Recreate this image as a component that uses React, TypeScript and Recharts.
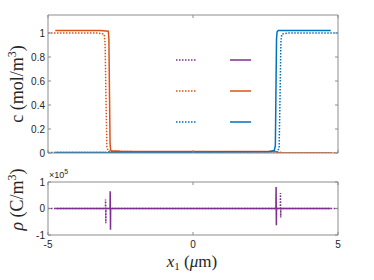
import React from 'react';
import { LineChart, Line, XAxis, YAxis, Legend } from 'recharts';

// ---------- data ----------
const xTicks = [-5, 0, 5];
const cTicks = [0, 0.2, 0.4, 0.6, 0.8, 1];
const rhoTicks = [-1, 0, 1];

// concentration, species 1 (orange)
const orangeSolidX = [-4.75, -3.2, -2.92, -2.9, -2.88, -2.86, -2.84, -2.8, -2.5, 0, 2.5, 2.85, 2.92, 3.0, 4.75];
const orangeSolidY = [1.02, 1.02, 1.015, 0.95, 0.5, 0.08, 0.025, 0.018, 0.015, 0.013, 0.013, 0.012, 0.004, 0.0, 0.0];
const orangeDottedX = [-5, -3.3, -3.06, -3.03, -3.0, -2.97, -2.93, -2.85, 0, 2.9, 3.05, 5];
const orangeDottedY = [1.0, 1.0, 0.99, 0.9, 0.45, 0.05, 0.02, 0.012, 0.01, 0.01, 0.003, 0.003];

// concentration, species 2 (blue)
const blueSolidX = [-4.75, -3.0, -2.9, -2.85, -2.7, 0, 2.6, 2.8, 2.84, 2.86, 2.88, 2.9, 2.94, 3.2, 4.75];
const blueSolidY = [0.005, 0.005, 0.0, 0.004, 0.006, 0.006, 0.01, 0.02, 0.06, 0.5, 0.95, 1.01, 1.02, 1.02, 1.02];
const blueDottedX = [-5, -3.0, -2.95, 0, 2.9, 2.97, 3.0, 3.03, 3.06, 3.3, 5];
const blueDottedY = [0.004, 0.004, 0.008, 0.008, 0.01, 0.04, 0.45, 0.92, 0.99, 1.0, 1.0];

// charge density (purple), units of 1e5 C/m^3
const rhoSolidX = [-4.75, -2.86, -2.855, -2.845, -2.84, 2.86, 2.865, 2.875, 2.88, 4.75];
const rhoSolidY = [0, 0, 0.65, -0.8, 0, 0, 0.81, -0.63, 0, 0];
const rhoDottedX = [-5, -3.02, -3.015, -3.005, -3.0, 3.01, 3.015, 3.025, 3.03, 5];
const rhoDottedY = [0, 0, 0.34, -0.56, 0, 0, 0.58, -0.34, 0, 0];

const ORANGE = '#D95319';
const BLUE = '#0072BD';
const PURPLE = '#7E2F8E';
const legendColors = [PURPLE, ORANGE, BLUE];

const zip = (xs: number[], ys: number[]) => xs.map((x, i) => ({ x, y: ys[i] }));

// ---------- styles ----------
const FRAME = '#8c8c8c';
const TXT = '#262626';
const TL = 3;
const SANS = '"Liberation Sans", Arial, sans-serif';
const SERIF = '"Liberation Serif", "DejaVu Serif", serif';
const DOT = '1.5 1.5';
const W = 374;

const fmt = (v: number) => (v < 0 ? '-' + Math.abs(v) : String(v));

const bottomTick = (showLabel: boolean) => (p: any) => (
  <g>
    <line x1={p.x} x2={p.x} y1={p.y} y2={p.y - TL} stroke={FRAME} />
    {showLabel && (
      <text x={p.x} y={p.y + 13} textAnchor="middle" fontFamily={SANS} fontSize={10} fill={TXT}>
        {fmt(p.payload.value)}
      </text>
    )}
  </g>
);
const topTick = (p: any) => (
  <g>
    <line x1={p.x} x2={p.x} y1={p.y} y2={p.y + TL} stroke={FRAME} />
  </g>
);
const leftTick = (p: any) => (
  <g>
    <line x1={p.x} x2={p.x + TL} y1={p.y} y2={p.y} stroke={FRAME} />
    <text x={p.x - 3} y={p.y + 3.5} textAnchor="end" fontFamily={SANS} fontSize={10} fill={TXT}>
      {fmt(p.payload.value)}
    </text>
  </g>
);
const rightTick = (p: any) => (
  <g>
    <line x1={p.x} x2={p.x - TL} y1={p.y} y2={p.y} stroke={FRAME} />
  </g>
);

const cLabel = (p: any) => {
  const vb = p.viewBox;
  const cx = 23;
  const cy = vb.y + vb.height / 2;
  return (
    <text x={cx} y={cy} transform={`rotate(-90 ${cx} ${cy})`} textAnchor="middle" fontFamily={SERIF} fontSize={18} fill={TXT}>
      c (mol/m<tspan dy={-7} fontSize={12}>3</tspan><tspan dy={7}>)</tspan>
    </text>
  );
};
const rhoLabel = (p: any) => {
  const vb = p.viewBox;
  const cx = 23;
  const cy = vb.y + vb.height / 2 - 9;
  return (
    <text x={cx} y={cy} transform={`rotate(-90 ${cx} ${cy})`} textAnchor="middle" fontFamily={SERIF} fontSize={18} fill={TXT}>
      <tspan fontStyle="italic">ρ</tspan> (C/m<tspan dy={-7} fontSize={12}>3</tspan><tspan dy={7}>)</tspan>
    </text>
  );
};
const xLabel = (p: any) => {
  const vb = p.viewBox;
  const cx = vb.x + vb.width / 2 - 1;
  return (
    <text x={cx} y={vb.y + 32} textAnchor="middle" fontFamily={SERIF} fontSize={17} fill={TXT}>
      <tspan fontStyle="italic">x</tspan><tspan dy={3} fontSize={11}>1</tspan><tspan dy={-3}> (</tspan><tspan fontStyle="italic">μ</tspan>m)
    </text>
  );
};
const expLabel = (p: any) => {
  const vb = p.viewBox;
  return (
    <text x={vb.x + 1} y={vb.y - 3} fontFamily={SANS} fontSize={9} fill={TXT}>
      ×10<tspan dy={-4} fontSize={7}>5</tspan>
    </text>
  );
};

const LegendBox = () => (
  <svg width={90} height={80}>
    {legendColors.map((c, i) => (
      <g key={i}>
        <line x1={6} x2={27} y1={10 + i * 31} y2={10 + i * 31} stroke={c} strokeWidth={1.5} strokeDasharray={DOT} />
        <line x1={60} x2={81} y1={10 + i * 31} y2={10 + i * 31} stroke={c} strokeWidth={1.5} />
      </g>
    ))}
  </svg>
);

const axisCommon = {
  type: 'number' as const,
  allowDataOverflow: true,
  tickSize: 0,
  tickMargin: 0,
  tickLine: false,
  interval: 0 as const,
  axisLine: { stroke: FRAME },
};

export default function App() {
  return (
    <div style={{ position: 'absolute', left: 0, top: 0, width: W, height: 280, background: '#fff' }}>
      <div style={{ position: 'absolute', left: 0, top: 0 }}>
        <LineChart width={W} height={160} margin={{ top: 14, right: 35, bottom: 6, left: 47 }}>
          <XAxis {...axisCommon} dataKey="x" domain={[-5, 5]} ticks={xTicks} height={1} tick={bottomTick(false)} />
          <XAxis {...axisCommon} xAxisId="t" orientation="top" dataKey="x" domain={[-5, 5]} ticks={xTicks} height={1} tick={topTick} />
          <YAxis {...axisCommon} domain={[0, 1.15]} ticks={cTicks} width={1} tick={leftTick} label={cLabel} />
          <YAxis {...axisCommon} yAxisId="r" orientation="right" domain={[0, 1.15]} ticks={cTicks} width={1} tick={rightTick} />
          <Line data={zip(orangeDottedX, orangeDottedY)} dataKey="y" stroke={ORANGE} strokeWidth={1.5} strokeDasharray={DOT} dot={false} isAnimationActive={false} />
          <Line data={zip(blueDottedX, blueDottedY)} dataKey="y" stroke={BLUE} strokeWidth={1.5} strokeDasharray={DOT} dot={false} isAnimationActive={false} />
          <Line data={zip(orangeSolidX, orangeSolidY)} dataKey="y" stroke={ORANGE} strokeWidth={1.5} dot={false} isAnimationActive={false} />
          <Line data={zip(blueSolidX, blueSolidY)} dataKey="y" stroke={BLUE} strokeWidth={1.5} dot={false} isAnimationActive={false} />
          <Legend layout="horizontal" verticalAlign="middle" align="center"
            wrapperStyle={{ position: 'absolute', left: 170, top: 50, width: 90, height: 80 }}
            content={() => <LegendBox />} />
        </LineChart>
      </div>
      <div style={{ position: 'absolute', left: 0, top: 160 }}>
        <LineChart width={W} height={120} margin={{ top: 21, right: 35, bottom: 44, left: 47 }}>
          <XAxis {...axisCommon} dataKey="x" domain={[-5, 5]} ticks={xTicks} height={1} tick={bottomTick(true)} label={xLabel} />
          <XAxis {...axisCommon} xAxisId="t" orientation="top" dataKey="x" domain={[-5, 5]} ticks={xTicks} height={1} tick={topTick} label={expLabel} />
          <YAxis {...axisCommon} domain={[-1, 1]} ticks={rhoTicks} width={1} tick={leftTick} label={rhoLabel} />
          <YAxis {...axisCommon} yAxisId="r" orientation="right" domain={[-1, 1]} ticks={rhoTicks} width={1} tick={rightTick} />
          <Line data={zip(rhoDottedX, rhoDottedY)} dataKey="y" stroke={PURPLE} strokeWidth={1.5} strokeDasharray={DOT} dot={false} isAnimationActive={false} />
          <Line data={zip(rhoSolidX, rhoSolidY)} dataKey="y" stroke={PURPLE} strokeWidth={1.5} dot={false} isAnimationActive={false} />
        </LineChart>
      </div>
    </div>
  );
}
